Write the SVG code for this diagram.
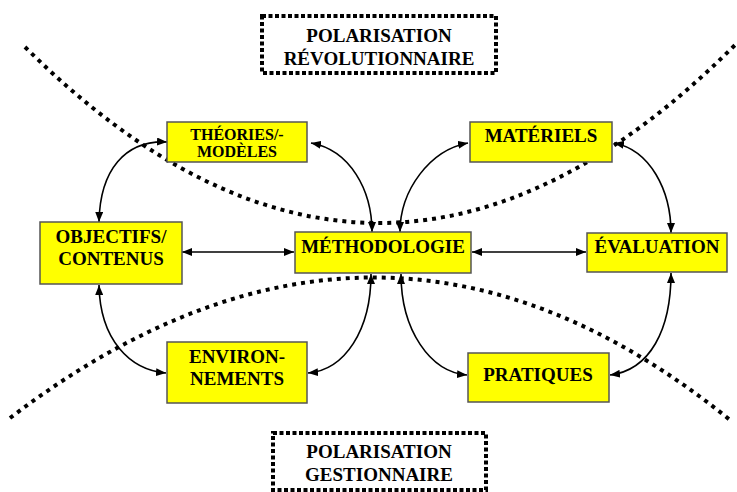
<svg xmlns="http://www.w3.org/2000/svg" width="737" height="492" viewBox="0 0 737 492">
<style>
.bg{fill:#ffffff}
.dots{fill:none;stroke:#000;stroke-width:4;stroke-dasharray:4 5}
.frame{fill:#fff;stroke:#000;stroke-width:4;stroke-dasharray:4 2.5}
.box{fill:#ffff00;stroke:#555;stroke-width:1.5}
.t{font-family:"Liberation Serif","Times New Roman",serif;font-weight:bold;fill:#000;text-anchor:middle}
.big{font-size:19px}
.small{font-size:16px}
.conn{fill:none;stroke:#000;stroke-width:1.6}
</style>
<defs>
<marker id="ah" viewBox="0 0 10 8" refX="10" refY="4" markerWidth="10" markerHeight="8" markerUnits="userSpaceOnUse" orient="auto-start-reverse">
<path d="M0,0 L10,4 L0,8 z" fill="#000"/>
</marker>
</defs>
<rect class="bg" x="0" y="0" width="737" height="492"/>
<g id="polarisation-curves">
<path class="dots" d="M25,47 Q380,400 735,45"/>
<path class="dots" d="M10,418 Q380,136 730,420"/>
</g>
<g id="connectors">
<path class="conn" d="M167,142 C125,140 100,170 99,222" marker-start="url(#ah)" marker-end="url(#ah)"/>
<path class="conn" d="M311,143 C350,150 372,190 372,232" marker-start="url(#ah)" marker-end="url(#ah)"/>
<path class="conn" d="M468,143 C430,150 400,190 400,232" marker-start="url(#ah)" marker-end="url(#ah)"/>
<path class="conn" d="M614,143 C650,150 671,190 671,233" marker-start="url(#ah)" marker-end="url(#ah)"/>
<path class="conn" d="M182,252 L294,252" marker-start="url(#ah)" marker-end="url(#ah)"/>
<path class="conn" d="M472,252 L586,252" marker-start="url(#ah)" marker-end="url(#ah)"/>
<path class="conn" d="M99,285 C100,340 130,370 166,373" marker-start="url(#ah)" marker-end="url(#ah)"/>
<path class="conn" d="M308,373 C345,370 371,330 371,274" marker-start="url(#ah)" marker-end="url(#ah)"/>
<path class="conn" d="M401,274 C401,330 430,372 467,375" marker-start="url(#ah)" marker-end="url(#ah)"/>
<path class="conn" d="M671,273 C671,330 650,370 610,375" marker-start="url(#ah)" marker-end="url(#ah)"/>
</g>
<g id="pol-revolutionnaire">
<rect class="frame" x="262" y="16" width="234" height="57"/>
<text class="t big" x="379" y="42">POLARISATION</text>
<text class="t big" x="379" y="65">RÉVOLUTIONNAIRE</text>
</g>
<g id="pol-gestionnaire">
<rect class="frame" x="273" y="433" width="213" height="57"/>
<text class="t big" x="379" y="458">POLARISATION</text>
<text class="t big" x="379" y="481">GESTIONNAIRE</text>
</g>
<g id="theories">
<rect class="box" x="167" y="122" width="140" height="40"/>
<text class="t small" x="237" y="140">THÉORIES/-</text>
<text class="t small" x="237" y="157">MODÈLES</text>
</g>
<g id="materiels">
<rect class="box" x="470" y="122" width="142" height="40"/>
<text class="t big" x="541" y="142">MATÉRIELS</text>
</g>
<g id="objectifs">
<rect class="box" x="40" y="222" width="142" height="62"/>
<text class="t big" x="111" y="243">OBJECTIFS/</text>
<text class="t big" x="111" y="265">CONTENUS</text>
</g>
<g id="methodologie">
<rect class="box" x="295" y="232" width="176" height="41"/>
<text class="t big" x="383" y="253">MÉTHODOLOGIE</text>
</g>
<g id="evaluation">
<rect class="box" x="587" y="233" width="140" height="39"/>
<text class="t big" x="657" y="253">ÉVALUATION</text>
</g>
<g id="environnements">
<rect class="box" x="167" y="342" width="140" height="61"/>
<text class="t big" x="237" y="363">ENVIRON-</text>
<text class="t big" x="237" y="385">NEMENTS</text>
</g>
<g id="pratiques">
<rect class="box" x="468" y="353" width="141" height="49"/>
<text class="t big" x="538" y="381">PRATIQUES</text>
</g>
</svg>
